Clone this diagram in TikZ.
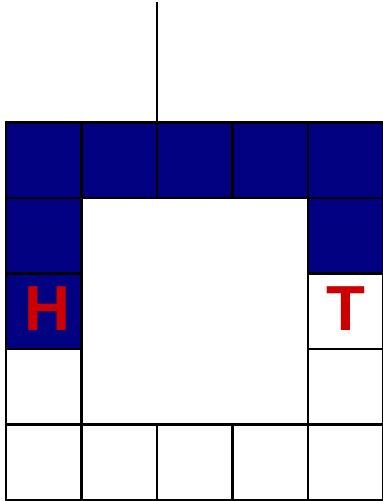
\documentclass[tikz,border=0pt]{standalone}
\usepackage{fontspec}
\setmainfont{Liberation Sans}
\usepackage{xcolor}
\usepackage{tikz}
\definecolor{navyx}{HTML}{000080}
\definecolor{redx}{HTML}{CC0000}
\tikzset{
  navycell/.style={draw=black,line width=1.1pt,fill=navyx},
  whitecell/.style={draw=black,line width=1.1pt,fill=white},
  letter/.style={text=redx,font=\fontsize{24}{28}\selectfont\bfseries,inner sep=0pt}
}
\begin{document}
\begin{tikzpicture}[x=1cm,y=1cm]
\useasboundingbox (-0.08,-0.013) rectangle (4.98,6.623);
% top row
\foreach \c in {0,...,4}{\draw[navycell] (\c,4) rectangle ++(1,1);}
\draw[navycell] (0,3) rectangle ++(1,1);
\draw[navycell] (4,3) rectangle ++(1,1);
\draw[navycell] (0,2) rectangle ++(1,1);
% white cells
\draw[whitecell] (4,2) rectangle ++(1,1);
\draw[whitecell] (0,1) rectangle ++(1,1);
\draw[whitecell] (4,1) rectangle ++(1,1);
\foreach \c in {0,...,4}{\draw[whitecell] (\c,0) rectangle ++(1,1);}
\draw[whitecell] (1,1) rectangle (4,4);
% labels
\node[letter] (head) at (0.55,2.53) {H};
\node[letter] (tail) at (4.5,2.53) {T};
% stem
\coordinate (stemtop) at (2,6.6);
\coordinate (stembot) at (2,5);
\draw[line width=0.75pt] (stemtop) -- (stembot);
\end{tikzpicture}
\end{document}
